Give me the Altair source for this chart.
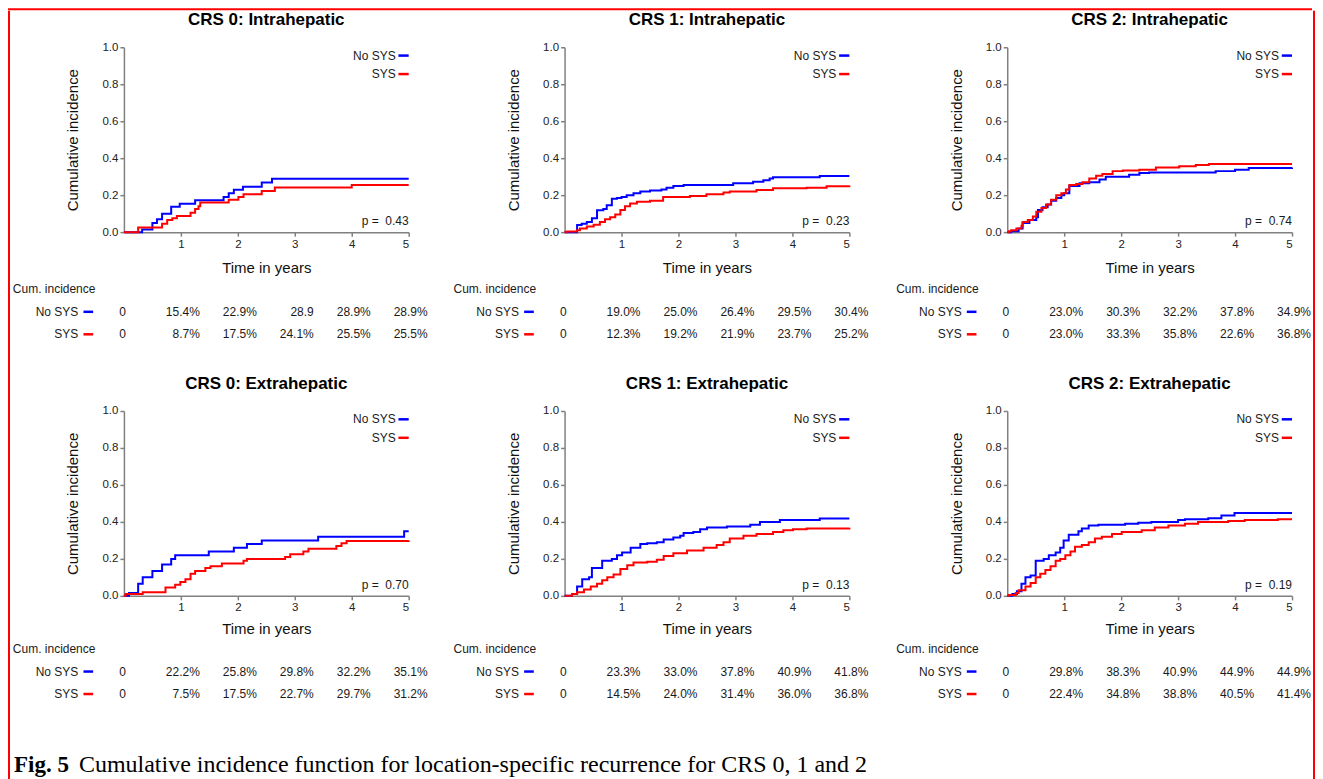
import altair as alt
import pandas as pd

GROUPS = ["No SYS", "SYS"]
TITLES = ["CRS 0: Intrahepatic", "CRS 1: Intrahepatic", "CRS 2: Intrahepatic",
          "CRS 0: Extrahepatic", "CRS 1: Extrahepatic", "CRS 2: Extrahepatic"]
P_VALUES = ["0.43", "0.23", "0.74", "0.70", "0.13", "0.19"]
TABLE_TIMES = [0, 1, 2, 3, 4, 5]

# ---- CRS 0: Intrahepatic ----
c0i_nosys_t = [0, 0.32, 0.50, 0.58, 0.67, 0.83, 0.98, 1.25, 1.75, 1.84, 1.93, 2.09, 2.42, 2.60, 5.0]
c0i_nosys_v = [0, 0.014, 0.05, 0.07, 0.10, 0.137, 0.154, 0.172, 0.19, 0.21, 0.229, 0.246, 0.268, 0.289, 0.289]
c0i_sys_t = [0, 0.25, 0.67, 0.76, 0.85, 0.93, 1.17, 1.25, 1.31, 1.34, 1.84, 2.01, 2.10, 2.42, 2.65, 4.0, 5.0]
c0i_sys_v = [0, 0.025, 0.045, 0.065, 0.075, 0.087, 0.105, 0.125, 0.14, 0.16, 0.175, 0.19, 0.205, 0.223, 0.241, 0.255, 0.255]
c0i_tab_nosys = ["0", "15.4%", "22.9%", "28.9", "28.9%", "28.9%"]
c0i_tab_sys = ["0", "8.7%", "17.5%", "24.1%", "25.5%", "25.5%"]

# ---- CRS 1: Intrahepatic ----
c1i_nosys_t = [0, 0.22, 0.30, 0.39, 0.48, 0.57, 0.68, 0.74, 0.83, 0.92, 1.0, 1.09, 1.21, 1.33, 1.5, 1.7,
               1.79, 1.91, 2.09, 2.96, 3.31, 3.49, 3.6, 3.66, 4.48, 5.0]
c1i_nosys_v = [0, 0.038, 0.045, 0.055, 0.075, 0.119, 0.125, 0.145, 0.18, 0.185, 0.19, 0.2, 0.21, 0.22, 0.225,
               0.23, 0.24, 0.25, 0.255, 0.264, 0.272, 0.28, 0.29, 0.297, 0.304, 0.304]
c1i_sys_t = [0, 0.04, 0.22, 0.27, 0.39, 0.51, 0.62, 0.71, 0.80, 0.89, 0.98, 1.06, 1.15, 1.27, 1.5, 1.73,
             2.2, 2.49, 2.79, 2.9, 3.37, 3.66, 4.25, 4.6, 5.0]
c1i_sys_v = [0, 0.003, 0.01, 0.02, 0.03, 0.04, 0.055, 0.07, 0.08, 0.095, 0.12, 0.14, 0.155, 0.165, 0.17, 0.19,
             0.195, 0.205, 0.215, 0.22, 0.228, 0.237, 0.24, 0.248, 0.252]
c1i_tab_nosys = ["0", "19.0%", "25.0%", "26.4%", "29.5%", "30.4%"]
c1i_tab_sys = ["0", "12.3%", "19.2%", "21.9%", "23.7%", "25.2%"]

# ---- CRS 2: Intrahepatic ----
c2i_nosys_t = [0, 0.07, 0.2, 0.27, 0.39, 0.51, 0.54, 0.62, 0.71, 0.77, 0.86, 0.95, 1.0, 1.09, 1.27, 1.44,
               1.62, 1.73, 2.14, 2.32, 2.49, 3.66, 4.0, 4.24, 5.0]
c2i_nosys_v = [0, 0.005, 0.02, 0.05, 0.065, 0.08, 0.12, 0.135, 0.15, 0.17, 0.185, 0.2, 0.21, 0.25, 0.265,
               0.27, 0.285, 0.3, 0.31, 0.32, 0.322, 0.33, 0.338, 0.347, 0.349]
c2i_sys_t = [0, 0.03, 0.07, 0.16, 0.25, 0.27, 0.36, 0.45, 0.51, 0.6, 0.68, 0.77, 0.86, 0.95, 1.03, 1.09,
             1.21, 1.32, 1.44, 1.56, 1.67, 1.85, 2.03, 2.32, 2.61, 3.02, 3.31, 3.54, 5.0]
c2i_sys_v = [0, 0.005, 0.01, 0.02, 0.035, 0.055, 0.065, 0.085, 0.11, 0.13, 0.15, 0.175, 0.2, 0.21, 0.23,
             0.255, 0.26, 0.27, 0.29, 0.305, 0.315, 0.33, 0.333, 0.337, 0.35, 0.357, 0.363, 0.368, 0.368]
c2i_tab_nosys = ["0", "23.0%", "30.3%", "32.2%", "37.8%", "34.9%"]
c2i_tab_sys = ["0", "23.0%", "33.3%", "35.8%", "22.6%", "36.8%"]

# ---- CRS 0: Extrahepatic ----
c0e_nosys_t = [0, 0.09, 0.25, 0.33, 0.5, 0.67, 0.83, 0.9, 1.49, 1.93, 2.16, 2.42, 3.41, 4.92, 5.0]
c0e_nosys_v = [0, 0.015, 0.065, 0.10, 0.135, 0.17, 0.20, 0.22, 0.24, 0.26, 0.28, 0.30, 0.32, 0.35, 0.35]
c0e_sys_t = [0, 0.03, 0.33, 0.73, 0.9, 0.99, 1.08, 1.17, 1.25, 1.43, 1.52, 1.72, 2.1, 2.16, 2.83, 2.92,
             3.15, 3.24, 3.73, 3.82, 3.91, 5.0]
c0e_sys_v = [0, 0.01, 0.02, 0.045, 0.06, 0.075, 0.09, 0.12, 0.135, 0.15, 0.16, 0.175, 0.19, 0.20, 0.21,
             0.225, 0.24, 0.255, 0.27, 0.285, 0.297, 0.30]
c0e_tab_nosys = ["0", "22.2%", "25.8%", "29.8%", "32.2%", "35.1%"]
c0e_tab_sys = ["0", "7.5%", "17.5%", "22.7%", "29.7%", "31.2%"]

# ---- CRS 1: Extrahepatic ----
c1e_nosys_t = [0, 0.13, 0.22, 0.31, 0.43, 0.48, 0.66, 0.83, 0.92, 1.01, 1.16, 1.33, 1.45, 1.62, 1.74, 1.91,
               2.03, 2.09, 2.26, 2.38, 2.5, 2.85, 3.26, 3.43, 3.78, 4.48, 5.0]
c1e_nosys_v = [0, 0.01, 0.05, 0.09, 0.10, 0.15, 0.19, 0.20, 0.22, 0.235, 0.26, 0.28, 0.285, 0.29, 0.305,
               0.315, 0.325, 0.34, 0.345, 0.36, 0.37, 0.375, 0.385, 0.40, 0.41, 0.418, 0.418]
c1e_sys_t = [0, 0.13, 0.22, 0.34, 0.46, 0.57, 0.66, 0.75, 0.86, 0.98, 1.1, 1.21, 1.45, 1.62, 1.74, 1.91,
             2.15, 2.44, 2.67, 2.79, 2.9, 3.14, 3.37, 3.66, 3.84, 4.01, 4.25, 5.0]
c1e_sys_v = [0, 0.01, 0.02, 0.035, 0.05, 0.065, 0.085, 0.10, 0.115, 0.145, 0.165, 0.18, 0.185, 0.195,
             0.215, 0.23, 0.245, 0.26, 0.275, 0.29, 0.31, 0.325, 0.335, 0.345, 0.355, 0.36, 0.365, 0.368]
c1e_tab_nosys = ["0", "23.3%", "33.0%", "37.8%", "40.9%", "41.8%"]
c1e_tab_sys = ["0", "14.5%", "24.0%", "31.4%", "36.0%", "36.8%"]

# ---- CRS 2: Extrahepatic ----
c2e_nosys_t = [0, 0.09, 0.17, 0.25, 0.32, 0.41, 0.5, 0.64, 0.73, 0.85, 0.93, 0.99, 1.08, 1.25, 1.31, 1.43,
               1.6, 2.07, 2.3, 2.53, 3.0, 3.12, 3.53, 3.76, 3.99, 5.0]
c2e_nosys_v = [0, 0.01, 0.025, 0.065, 0.10, 0.11, 0.19, 0.20, 0.22, 0.235, 0.26, 0.30, 0.33, 0.35, 0.365,
               0.38, 0.385, 0.39, 0.395, 0.40, 0.41, 0.415, 0.42, 0.435, 0.448, 0.448]
c2e_sys_t = [0, 0.03, 0.15, 0.2, 0.32, 0.41, 0.5, 0.58, 0.67, 0.76, 0.85, 0.93, 1.02, 1.11, 1.19, 1.31,
             1.43, 1.54, 1.66, 1.84, 2.01, 2.36, 2.59, 2.83, 3.12, 3.35, 3.88, 4.17, 4.75, 5.0]
c2e_sys_v = [0, 0.005, 0.015, 0.03, 0.05, 0.07, 0.10, 0.12, 0.14, 0.16, 0.19, 0.20, 0.22, 0.24, 0.265,
             0.275, 0.29, 0.31, 0.32, 0.335, 0.345, 0.355, 0.37, 0.38, 0.39, 0.40, 0.405, 0.41, 0.414, 0.414]
c2e_tab_nosys = ["0", "29.8%", "38.3%", "40.9%", "44.9%", "44.9%"]
c2e_tab_sys = ["0", "22.4%", "34.8%", "38.8%", "40.5%", "41.4%"]

CAPTION_BOLD = "Fig. 5"
CAPTION_TEXT = "Cumulative incidence function for location-specific recurrence for CRS 0, 1 and 2"

# ---------------- layout / style constants ----------------
BLUE, RED = "#0000ff", "#ff0000"
INK = "#1a1a1a"
FONT = "Liberation Sans"
W, H = 285, 185
ROW_STEP = 22.5
LEG_Y = [0.955, 0.855]
LEG_DASH = (4.82, 5.0)
P_Y = 0.058
LABEL_T = -0.8
DASH_T = (-0.71, -0.54)
HEADER_T = -1.95
TITLE_OFFSET = 12.5
BAR_UP = 36.5

color_scale = alt.Scale(domain=GROUPS, range=[BLUE, RED])


def plot_chart(title, nt, nv, st, sv, pval, x_title_pad):
    df = pd.DataFrame({"t": nt + st, "v": nv + sv,
                       "g": [GROUPS[0]] * len(nt) + [GROUPS[1]] * len(st)})
    xenc = alt.X("t:Q", title="Time in years",
                 scale=alt.Scale(domain=[0, 5], nice=False, zero=False),
                 axis=alt.Axis(values=[1, 2, 3, 4, 5], format="d", labelPadding=2,
                               titlePadding=x_title_pad))
    yenc = alt.Y("v:Q", title="Cumulative incidence",
                 scale=alt.Scale(domain=[0, 1], nice=False),
                 axis=alt.Axis(values=[0, 0.2, 0.4, 0.6, 0.8, 1.0], format=".1f", labelPadding=2,
                               titlePadding=21))
    color = alt.Color("g:N", scale=color_scale, legend=None)
    lines = alt.Chart(df).mark_line(interpolate="step-after", strokeWidth=2).encode(
        x=xenc, y=yenc, color=color)

    leg_rule_df = pd.DataFrame({"g": GROUPS, "t": [LEG_DASH[0]] * 2, "t2": [LEG_DASH[1]] * 2, "v": LEG_Y})
    leg_rule = alt.Chart(leg_rule_df).mark_rule(strokeWidth=2.5).encode(
        x=xenc, x2="t2:Q", y=yenc, color=color)
    leg_text_df = pd.DataFrame({"g": GROUPS, "t": [5, 5], "v": LEG_Y})
    leg_text = alt.Chart(leg_text_df).mark_text(
        align="right", baseline="middle", dx=-13, fontSize=12, font=FONT, color=INK).encode(
        x=xenc, y=yenc, text="g:N")
    p_df = pd.DataFrame({"t": [5], "v": [P_Y], "txt": ["p =\u00a0 " + pval]})
    p_text = alt.Chart(p_df).mark_text(
        align="right", baseline="middle", fontSize=12, font=FONT, color=INK).encode(
        x=xenc, y=yenc, text="txt:N")
    return alt.layer(lines, leg_rule, leg_text, p_text).properties(
        width=W, height=H,
        title=alt.Title(title, fontSize=17, fontWeight="bold", font=FONT, color="#000",
                        anchor="middle", frame="group", offset=TITLE_OFFSET))


def table_chart(tab_nosys, tab_sys):
    rows = []
    for g, vals in ((GROUPS[0], tab_nosys), (GROUPS[1], tab_sys)):
        for t, v in zip(TABLE_TIMES, vals):
            rows.append({"t": t, "row": g, "txt": v})
    df = pd.DataFrame(rows)
    x = alt.X("t:Q", scale=alt.Scale(domain=[0, 5], nice=False, zero=False), axis=None)
    y = alt.Y("row:N", scale=alt.Scale(domain=["hdr"] + GROUPS), axis=None)
    txt = dict(fontSize=12, font=FONT, color=INK, baseline="middle")
    zero = alt.Chart(df).transform_filter("datum.t == 0").mark_text(align="right", dx=2, **txt).encode(
        x=x, y=y, text="txt:N")
    vals = alt.Chart(df).transform_filter("datum.t > 0").mark_text(align="right", dx=19, **txt).encode(
        x=x, y=y, text="txt:N")
    lab_df = pd.DataFrame({"row": GROUPS, "t": [LABEL_T] * 2, "t0": [DASH_T[0]] * 2,
                           "t1": [DASH_T[1]] * 2, "g": GROUPS})
    labels = alt.Chart(lab_df).mark_text(align="right", **txt).encode(x=x, y=y, text="g:N")
    dashes = alt.Chart(lab_df).mark_rule(strokeWidth=2.5).encode(
        x=alt.X("t0:Q", scale=alt.Scale(domain=[0, 5], nice=False, zero=False), axis=None),
        x2="t1:Q", y=y, color=alt.Color("g:N", scale=color_scale, legend=None))
    hdr_df = pd.DataFrame({"row": ["hdr"], "t": [HEADER_T], "txt": ["Cum. incidence"]})
    header = alt.Chart(hdr_df).mark_text(align="left", **txt).encode(x=x, y=y, text="txt:N")
    return alt.layer(zero, vals, labels, dashes, header).properties(width=W, height=ROW_STEP * 3)


panel_data = [
    (c0i_nosys_t, c0i_nosys_v, c0i_sys_t, c0i_sys_v, c0i_tab_nosys, c0i_tab_sys),
    (c1i_nosys_t, c1i_nosys_v, c1i_sys_t, c1i_sys_v, c1i_tab_nosys, c1i_tab_sys),
    (c2i_nosys_t, c2i_nosys_v, c2i_sys_t, c2i_sys_v, c2i_tab_nosys, c2i_tab_sys),
    (c0e_nosys_t, c0e_nosys_v, c0e_sys_t, c0e_sys_v, c0e_tab_nosys, c0e_tab_sys),
    (c1e_nosys_t, c1e_nosys_v, c1e_sys_t, c1e_sys_v, c1e_tab_nosys, c1e_tab_sys),
    (c2e_nosys_t, c2e_nosys_v, c2e_sys_t, c2e_sys_v, c2e_tab_nosys, c2e_tab_sys),
]

panels = []
for i, (nt, nv, st, sv, tn, ts) in enumerate(panel_data):
    top_row = i < 3
    panels.append(alt.vconcat(
        plot_chart(TITLES[i], nt, nv, st, sv, P_VALUES[i], 11 if top_row else 8),
        table_chart(tn, ts), spacing=2 if top_row else 1))


def make_row(p):
    return alt.hconcat(alt.hconcat(p[0], p[1], spacing=25), p[2], spacing=27)


grid = alt.vconcat(make_row(panels[:3]), make_row(panels[3:]), spacing=28)

cap_df = pd.DataFrame({"bold": [CAPTION_BOLD], "txt": [CAPTION_TEXT]})
cap_style = dict(align="left", baseline="alphabetic", font="Liberation Serif", color="#000")
cap_bold = alt.Chart(cap_df).mark_text(fontWeight="bold", fontSize=23, **cap_style).encode(
    x=alt.value(-110), y=alt.value(22), text="bold:N")
cap_rest = alt.Chart(cap_df).mark_text(fontSize=24, **cap_style).encode(
    x=alt.value(-45), y=alt.value(22), text="txt:N")
caption = alt.layer(cap_bold, cap_rest).properties(width=900, height=30)

content = alt.vconcat(grid, caption, spacing=44)


def red_bar(w, h, up=0):
    return alt.Chart(pd.DataFrame({"k": [0]})).mark_rect(color=RED).encode(
        x=alt.value(0), x2=alt.value("width"), y=alt.value(-up), y2=alt.value("height")
    ).properties(width=w, height=h)


middle = alt.hconcat(red_bar(2, 745, up=BAR_UP), content, red_bar(2, 745, up=BAR_UP), spacing=2)
chart = alt.vconcat(red_bar(1305, 2), middle, spacing=0).properties(
    padding=0, background="#ffffff"
).configure_view(strokeWidth=0).configure_axis(
    grid=False, domainColor="#808080", domainWidth=1.5, tickColor="#808080", tickWidth=1.5, tickSize=4,
    labelFont=FONT, labelFontSize=11.5, labelColor="#222222", titleFont=FONT, titleFontSize=15,
    titleFontWeight="normal", titleColor="#111111"
).configure_text(font=FONT)

chart.save("out.html", embed_options={"renderer": "svg", "actions": False})
